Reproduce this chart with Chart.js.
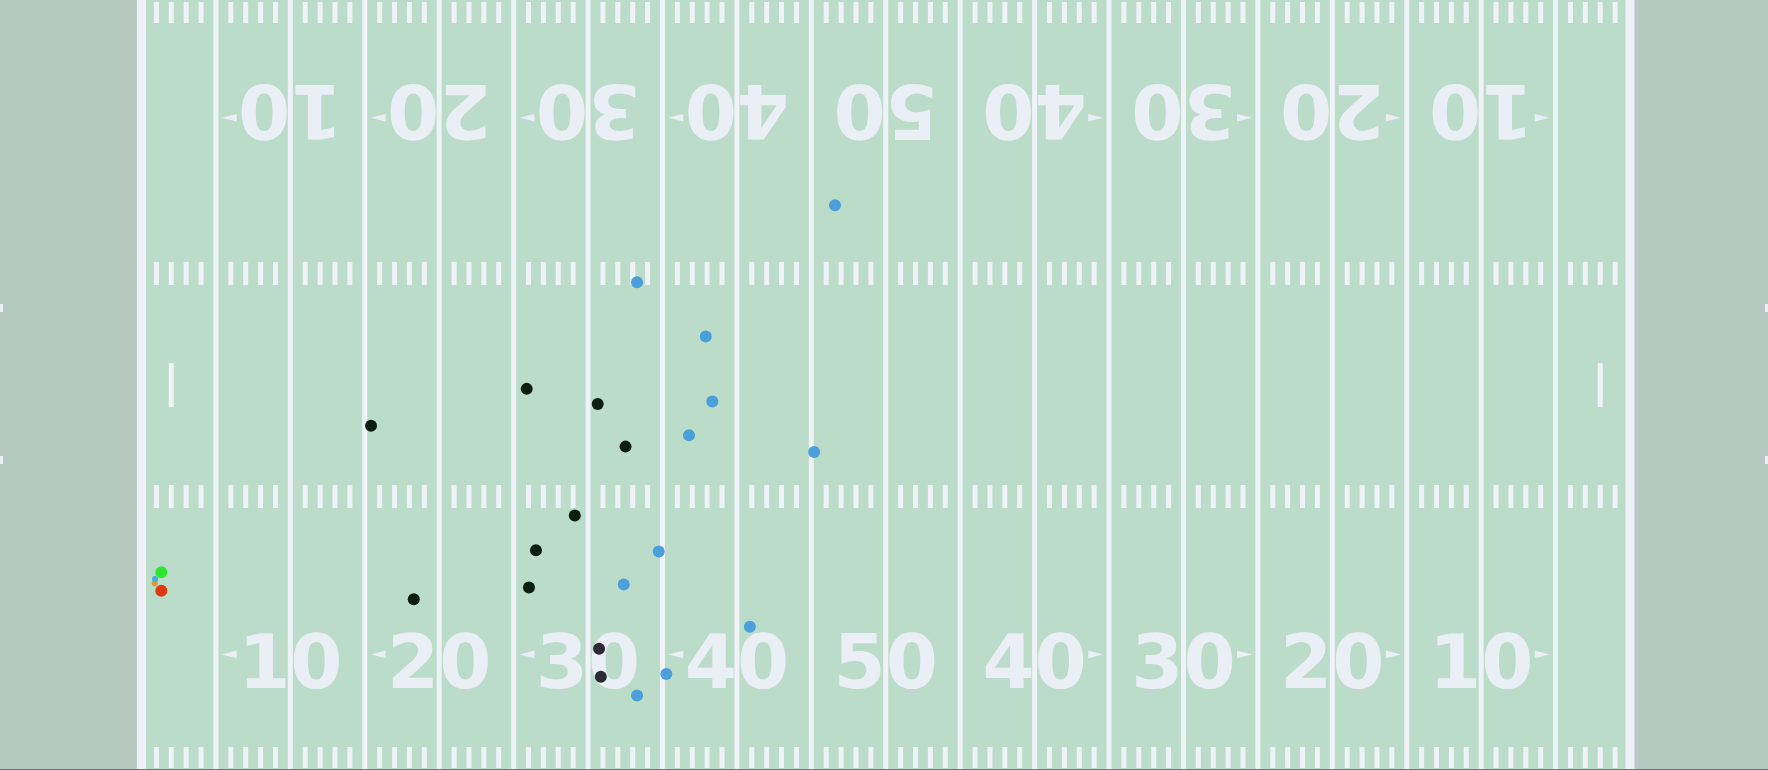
<!DOCTYPE html>
<html>
<head>
<meta charset="utf-8">
<script src="https://cdn.jsdelivr.net/npm/chart.js@4/dist/chart.umd.min.js"></script>
<style>
  html, body { margin: 0; padding: 0; background: #b6c9c0; overflow: hidden; }
  canvas { display: block; }
</style>
</head>
<body>
<canvas id="c" width="1768" height="770"></canvas>
<script>
// ---- data (yards; x along field incl. end zones 0..120, y across field) ----
const defenseX = [56.59, 43.29, 47.91, 48.35, 46.78, 55.19, 44.75, 42.40, 50.87, 45.26, 43.29];
const defenseY = [38.72, 33.55, 29.91, 25.54, 23.28, 22.15, 15.46, 13.25, 10.41, 7.23, 5.79];
const offenseX = [35.88, 40.65, 25.42, 42.52, 39.11, 36.50, 36.03, 28.29];
const offenseY = [26.39, 25.37, 23.91, 22.51, 17.88, 15.55, 13.05, 12.26];
const offense2X = [40.74, 40.86];
const offense2Y = [8.93, 7.05];
const carrierX = [11.33];
const carrierY = [14.07];
const targetX = [11.33];
const targetY = [12.83];
const trailAX = [10.91];
const trailAY = [13.62];
const trailBX = [10.89];
const trailBY = [13.33];
const yardNumbers = ['10', '20', '30', '40', '50', '40', '30', '20', '10'];

const toPts = (xs, ys) => xs.map((v, i) => ({ x: v, y: ys[i] }));

const FIELD = 'rgb(188,220,202)';
const ENDZONE = 'rgb(182,201,192)';
const LINE = 'rgba(241,243,250,0.95)';
const NUM = 'rgba(238,240,250,0.92)';

const fieldPlugin = {
  id: 'field',
  beforeDatasetsDraw(chart) {
    const { ctx, scales: { x, y } } = chart;
    const X = v => x.getPixelForValue(v);
    const Y = v => y.getPixelForValue(v);
    const W = chart.width, H = chart.height;
    ctx.save();
    ctx.fillStyle = ENDZONE;
    ctx.fillRect(0, 0, W, H);
    ctx.fillStyle = FIELD;
    ctx.fillRect(X(10), 0, X(110) - X(10), H);

    ctx.fillStyle = LINE;
    // 5-yard lines
    for (let v = 15; v <= 105; v += 5) {
      const p = X(v);
      ctx.fillRect(p - 2.5, 0, 5, H);
    }
    // goal lines
    [10, 110].forEach(v => { const p = X(v); ctx.fillRect(p - 4.5, 0, 9, H); });
    // hash marks
    const rows = [[52.38, 50.97], [34.91, 33.37], [19.93, 18.39], [2.33, 0.92]];
    for (let v = 11; v <= 109; v++) {
      if (v % 5 === 0) continue;
      const p = X(v);
      rows.forEach(r => {
        const t = Y(r[0]), b = Y(r[1]);
        ctx.fillRect(p - 2.5, t, 5, b - t);
      });
    }
    // PAT marks
    [12, 108].forEach(v => {
      const p = X(v), t = Y(28.13), b = Y(25.17);
      ctx.fillRect(p - 2.5, t, 5, b - t);
    });
    // goal post stubs at edges
    [31.82, 21.61].forEach(v => {
      const q = Y(v);
      ctx.fillRect(0, q - 4, 3, 8);
      ctx.fillRect(W - 3, q - 4, 3, 8);
    });

    // yard numbers
    ctx.fillStyle = NUM;
    ctx.font = "bold 75px 'DejaVu Sans'";
    ctx.textAlign = 'center';
    ctx.textBaseline = 'alphabetic';
    yardNumbers.forEach((lab, i) => {
      const xv = 20 + i * 10;
      const px = X(xv);
      ctx.fillText(lab, px, Y(6.32));
      ctx.save();
      ctx.translate(px, Y(46.78));
      ctx.rotate(Math.PI);
      ctx.fillText(lab, 0, 0);
      ctx.restore();
      if (xv !== 60) {
        const dir = xv < 60 ? -1 : 1;
        [8.55, 44.6].forEach(yv => {
          const cy = Y(yv);
          const tip = X(xv + dir * 4.6), base = X(xv + dir * 3.6);
          ctx.beginPath();
          ctx.moveTo(tip, cy);
          ctx.lineTo(base, cy - 3.8);
          ctx.lineTo(base, cy + 3.8);
          ctx.closePath();
          ctx.fill();
        });
      }
    });
    // thin dark border row at the bottom edge
    ctx.fillStyle = 'rgb(110,122,116)';
    ctx.fillRect(0, H - 1, W, 1);
    ctx.restore();
  }
};

const ds = (data, color, r) => ({
  data, backgroundColor: color, borderColor: color, borderWidth: 0,
  pointRadius: r, pointHoverRadius: r, showLine: false
});

new Chart(document.getElementById('c'), {
  type: 'scatter',
  data: {
    datasets: [
      ds(toPts(trailAX, trailAY), '#3bb2d6', 3),
      ds(toPts(trailBX, trailBY), '#e0963c', 3),
      ds(toPts(defenseX, defenseY), '#4b9fdb', 6),
      ds(toPts(offenseX, offenseY), '#0b1e10', 6),
      ds(toPts(offense2X, offense2Y), '#2c2a33', 6),
      ds(toPts(carrierX, carrierY), '#2fe62f', 6),
      ds(toPts(targetX, targetY), '#e0390f', 6)
    ]
  },
  options: {
    responsive: false,
    animation: false,
    devicePixelRatio: 1,
    layout: { padding: 0, autoPadding: false },
    events: [],
    plugins: { legend: { display: false }, tooltip: { enabled: false } },
    scales: {
      x: { type: 'linear', min: 0.494, max: 119.271, display: false },
      y: { type: 'linear', min: 0.785, max: 52.515, display: false }
    }
  },
  plugins: [fieldPlugin]
});
</script>
</body>
</html>
